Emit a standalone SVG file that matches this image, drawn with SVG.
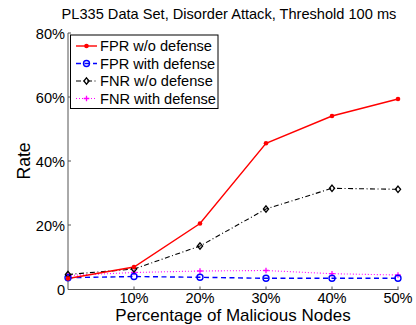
<svg xmlns="http://www.w3.org/2000/svg" width="416" height="325" viewBox="0 0 416 325">
  <style>
    text { font-family: "Liberation Sans", Arial, sans-serif; fill: #000; }
    .tick { font-size: 14.6px; }
    .lab { font-size: 17.6px; }
    .axis { stroke: #555; stroke-width: 1; fill: none; }
    .fpr0 { stroke: #f00; stroke-width: 1.4; fill: none; }
    .fpr1 { stroke: #00f; stroke-width: 1.4; fill: none; stroke-dasharray: 5 3.5; }
    .fnr0 { stroke: #000; stroke-width: 1.1; fill: none; stroke-dasharray: 5 2.5 1 2.5; }
    .fnr1 { stroke: #f0f; stroke-width: 1.1; fill: none; stroke-dasharray: 1 2; }
  </style>
  <defs>
    <circle id="mDot" r="2.3" fill="#f00"/>
    <circle id="mCirc" r="3" fill="none" stroke="#00f" stroke-width="1.4"/>
    <path id="mDia" d="M0,-3.2 L2.6,0 L0,3.2 L-2.6,0 Z" fill="none" stroke="#000" stroke-width="1.3"/>
    <path id="mPlus" d="M-2.8,0 H2.8 M0,-2.8 V2.8" stroke="#f0f" stroke-width="1.3"/>
  </defs>
  <rect width="416" height="325" fill="#fff"/>

  <!-- title -->
  <text class="tick" x="229" y="19" text-anchor="middle">PL335 Data Set, Disorder Attack, Threshold 100 ms</text>

  <!-- axes -->
  <g id="axes">
    <path class="axis" d="M68,33 V289.5 H398.5"/>
    <path class="axis" d="M68,33 H71 M68,97 H71 M68,161 H71 M68,225 H71 M134,289.5 V286.5 M200,289.5 V286.5 M266,289.5 V286.5 M332,289.5 V286.5 M398,289.5 V286.5"/>
    <g class="tick" text-anchor="end">
      <text x="65" y="39">80%</text>
      <text x="65" y="103">60%</text>
      <text x="65" y="167">40%</text>
      <text x="65" y="231">20%</text>
      <text x="65" y="295">0</text>
    </g>
    <g class="tick" text-anchor="middle">
      <text x="134" y="302.5">10%</text>
      <text x="200" y="302.5">20%</text>
      <text x="266" y="302.5">30%</text>
      <text x="332" y="302.5">40%</text>
      <text x="398" y="302.5">50%</text>
    </g>
    <text class="lab" x="233" y="321" text-anchor="middle" style="font-size:17px">Percentage of Malicious Nodes</text>
    <text class="lab" transform="translate(30,161) rotate(-90)" text-anchor="middle">Rate</text>
  </g>

  <!-- data series -->
  <g id="connectors">
    <polyline class="fnr1" points="68,275.5 134,272.5 200,271 266,270.5 332,273.7 398,275"/>
    <polyline class="fpr1" points="68,277.7 134,276.5 200,277.3 266,278.3 332,278.3 398,278.3"/>
    <polyline class="fnr0" points="68,274.5 134,269 200,246 266,209 332,188.3 398,189.3"/>
    <polyline class="fpr0" points="68,278.5 134,267 200,223.5 266,143.3 332,116 398,99"/>
  </g>
  <g id="fnr-with">
    <use href="#mPlus" x="68" y="275.5"/><use href="#mPlus" x="134" y="272.5"/><use href="#mPlus" x="200" y="271"/>
    <use href="#mPlus" x="266" y="270.5"/><use href="#mPlus" x="332" y="273.7"/><use href="#mPlus" x="398" y="275"/>
  </g>
  <g id="fpr-with">
    <use href="#mCirc" x="68" y="277.7"/><use href="#mCirc" x="134" y="276.5"/><use href="#mCirc" x="200" y="277.3"/>
    <use href="#mCirc" x="266" y="278.3"/><use href="#mCirc" x="332" y="278.3"/><use href="#mCirc" x="398" y="278.3"/>
  </g>
  <g id="fnr-without">
    <use href="#mDia" x="68" y="274.5"/><use href="#mDia" x="134" y="269"/><use href="#mDia" x="200" y="246"/>
    <use href="#mDia" x="266" y="209"/><use href="#mDia" x="332" y="188.3"/><use href="#mDia" x="398" y="189.3"/>
  </g>
  <g id="fpr-without">
    <use href="#mDot" x="68" y="278.5"/><use href="#mDot" x="134" y="267"/><use href="#mDot" x="200" y="223.5"/>
    <use href="#mDot" x="266" y="143.3"/><use href="#mDot" x="332" y="116"/><use href="#mDot" x="398" y="99"/>
  </g>

  <!-- legend -->
  <g id="legend">
    <rect x="70.5" y="35" width="147.5" height="73.5" fill="#fff" stroke="#000" stroke-width="1"/>
    <line class="fpr0" x1="76" y1="46" x2="97" y2="46"/><use href="#mDot" x="86.5" y="46"/>
    <line class="fpr1" x1="76" y1="63.5" x2="97" y2="63.5"/><use href="#mCirc" x="86.5" y="63.5"/>
    <line class="fnr0" x1="76" y1="81" x2="97" y2="81"/><use href="#mDia" x="86.5" y="81"/>
    <line class="fnr1" x1="76" y1="98.5" x2="97" y2="98.5"/><use href="#mPlus" x="86.5" y="98.5"/>
    <g class="tick">
      <text x="100" y="51">FPR w/o defense</text>
      <text x="100" y="68.5">FPR with defense</text>
      <text x="100" y="86">FNR w/o defense</text>
      <text x="100" y="103.5">FNR with defense</text>
    </g>
  </g>
</svg>
